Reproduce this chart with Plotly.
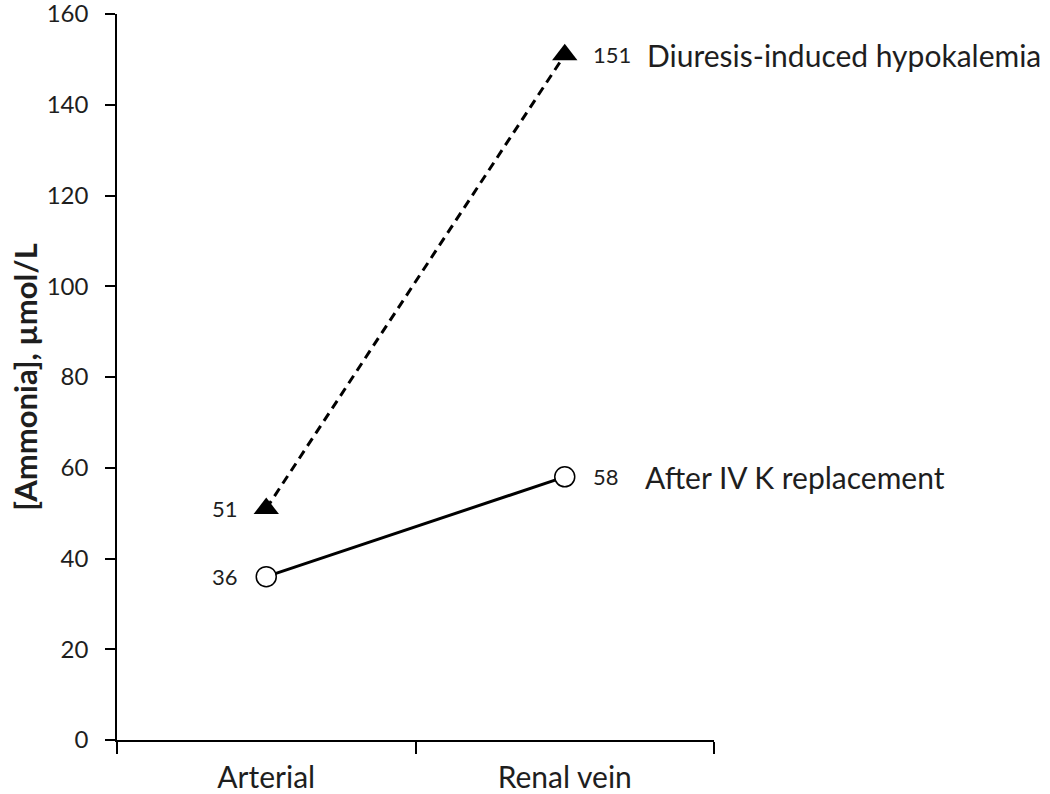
import plotly.graph_objects as go

sites = ["Arterial", "Renal vein"]
hypokalemia = [51, 151]
after_k = [36, 58]
series_names = ["Diuresis-induced hypokalemia", "After IV K replacement"]
y_ticks = [0, 20, 40, 60, 80, 100, 120, 140, 160]

FONT = "Lato, Carlito, Calibri, sans-serif"
INK = "#1e1e1e"

fig = go.Figure()

fig.add_trace(go.Scatter(
    x=sites,
    y=hypokalemia,
    mode="lines+markers",
    line=dict(color="black", width=3, dash="9px,6px"),
    marker=dict(symbol="triangle-up", size=22, color="black"),
    cliponaxis=False,
    name=series_names[0],
))

fig.add_trace(go.Scatter(
    x=sites,
    y=after_k,
    mode="lines+markers",
    line=dict(color="black", width=3),
    marker=dict(symbol="circle", size=20, color="white", line=dict(color="black", width=1.5)),
    cliponaxis=False,
    name=series_names[1],
))

# value labels beside each point
for vals in (hypokalemia, after_k):
    for i, (site, v) in enumerate(zip(sites, vals)):
        fig.add_annotation(
            x=site, y=v, text=str(v), showarrow=False,
            xanchor="right" if i == 0 else "left", yanchor="middle",
            xshift=-26 if i == 0 else 26,
            font=dict(family=FONT, size=22, color=INK),
        )

# series labels to the right of the renal vein points
for name, vals, shift in [(series_names[0], hypokalemia, 80), (series_names[1], after_k, 78)]:
    fig.add_annotation(
        x=sites[1], y=vals[1], text=name, showarrow=False,
        xanchor="left", yanchor="middle", xshift=shift,
        font=dict(family=FONT, size=30, color=INK),
    )

fig.update_layout(
    width=1050,
    height=794,
    plot_bgcolor="white",
    paper_bgcolor="white",
    showlegend=False,
    font=dict(family=FONT, color=INK),
    margin=dict(l=117, r=336, t=14, b=54, autoexpand=False),
)

fig.update_xaxes(
    type="category",
    range=[-0.5, 1.5],
    tickson="boundaries",
    ticks="outside",
    ticklen=12,
    tickcolor="black",
    tickwidth=1.5,
    showline=True,
    linecolor="black",
    linewidth=1.5,
    showgrid=False,
    automargin=False,
    ticklabelstandoff=10,
    ticklabeloverflow="allow",
    tickfont=dict(family=FONT, size=30, color=INK),
)

fig.update_yaxes(
    range=[0, 160],
    tickvals=y_ticks,
    ticks="outside",
    ticklen=10,
    tickcolor="black",
    tickwidth=1.5,
    showline=True,
    linecolor="black",
    linewidth=1.5,
    showgrid=False,
    zeroline=False,
    automargin=False,
    ticklabelstandoff=12,
    ticklabeloverflow="allow",
    tickfont=dict(family=FONT, size=24, color=INK),
    title=dict(text="<b>[Ammonia], µmol/L</b>", font=dict(family=FONT, size=31, color=INK), standoff=0),
)

# drop the default page margin so the figure fills the window exactly
fig.write_html(
    "out.html",
    config={"displayModeBar": False},
    post_script="document.body.style.margin = '0';",
)
